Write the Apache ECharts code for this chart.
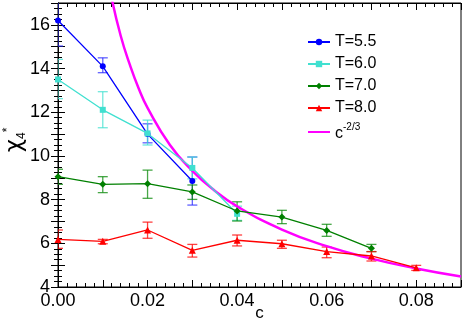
<!DOCTYPE html>
<html>
<head>
<meta charset="utf-8">
<script src="https://cdn.jsdelivr.net/npm/echarts@6/dist/echarts.min.js"></script>
<style>
  html, body { margin: 0; padding: 0; background: #fff; }
  #chart { width: 463px; height: 320px; }
</style>
</head>
<body>
<div id="chart"></div>
<script>
// concentration c for each temperature
const cT55 = [0.00, 0.01, 0.02, 0.03];
const cT60 = [0.00, 0.01, 0.02, 0.03, 0.04];
const cT70 = [0.00, 0.01, 0.02, 0.03, 0.04, 0.05, 0.06, 0.07];
const cT80 = [0.00, 0.01, 0.02, 0.03, 0.04, 0.05, 0.06, 0.07, 0.08];

// chi_4^* values and error bar ends
const yT55 = [16.2, 14.1, 11.0, 8.85];
const loT55 = [15.03, 13.81, 10.6, 7.75];
const hiT55 = [17.4, 14.49, 11.47, 9.95];

const yT60 = [13.5, 12.11, 11.03, 9.45, 7.35];
const loT60 = [12.62, 11.29, 10.5, 8.95, 7.05];
const hiT60 = [14.42, 12.94, 11.64, 9.95, 7.7];

const yT70 = [9.05, 8.70, 8.73, 8.35, 7.48, 7.2, 6.59, 5.77];
const loT70 = [8.70, 8.32, 8.06, 8.01, 7.02, 6.9, 6.32, 5.62];
const hiT70 = [9.39, 9.05, 9.35, 8.67, 7.9, 7.51, 6.87, 5.95];

const yT80 = [6.18, 6.09, 6.61, 5.68, 6.14, 5.98, 5.62, 5.42, 4.88];
const loT80 = [5.77, 5.98, 6.23, 5.37, 5.88, 5.77, 5.34, 5.19, 4.76];
const hiT80 = [6.61, 6.18, 6.97, 5.95, 6.38, 6.14, 5.83, 5.62, 4.99];

// c^(-2/3) guide curve
const cPow = [0.0120, 0.014, 0.016, 0.018, 0.020, 0.025, 0.030, 0.035, 0.040, 0.050, 0.060, 0.070, 0.080, 0.090];
const yPow = [17.2, 15.5, 14.2, 13.1, 12.2, 10.5, 9.32, 8.41, 7.69, 6.63, 5.87, 5.30, 4.85, 4.48];

const legendNames = ['T=5.5', 'T=6.0', 'T=7.0', 'T=8.0', 'c-2/3'];

const pairs = (xs, ys) => xs.map((x, i) => [x, ys[i]]);

const errorBars = (name, color, xs, lo, hi) => ({
  type: 'custom',
  name: name + ' err',
  clip: true,
  z: 1,
  data: xs.map((x, i) => [x, lo[i], hi[i]]),
  encode: { x: 0, y: [1, 2] },
  renderItem: function (params, api) {
    const x = api.value(0);
    const a = api.coord([x, api.value(1)]);
    const b = api.coord([x, api.value(2)]);
    const w = 5;
    const st = { stroke: color, lineWidth: 1.3, opacity: 0.75 };
    return {
      type: 'group',
      children: [
        { type: 'line', shape: { x1: a[0], y1: a[1], x2: b[0], y2: b[1] }, style: st },
        { type: 'line', shape: { x1: a[0] - w, y1: a[1], x2: a[0] + w, y2: a[1] }, style: st },
        { type: 'line', shape: { x1: b[0] - w, y1: b[1], x2: b[0] + w, y2: b[1] }, style: st }
      ]
    };
  }
});

const lineSeries = (name, color, symbol, size, xs, ys) => ({
  type: 'line',
  name: name,
  data: pairs(xs, ys),
  symbol: symbol,
  symbolSize: size,
  z: 3,
  lineStyle: { color: color, width: 1.3 },
  itemStyle: { color: color },
  emphasis: { disabled: true }
});

const chart = echarts.init(document.getElementById('chart'));

const tickFont = { fontFamily: 'Liberation Sans', fontSize: 18, color: '#000' };

chart.setOption({
  animation: false,
  grid: {
    left: 58, right: 2, top: 3, bottom: 33,
    containLabel: false,
    outerBoundsMode: 'none',
    show: true,
    borderColor: '#000',
    borderWidth: 1
  },
  legend: {
    data: legendNames.map(n => n === 'c-2/3'
      ? { name: n, itemStyle: { opacity: 0 } }
      : { name: n }),
    orient: 'vertical',
    left: 302,
    top: 29,
    itemWidth: 22,
    itemHeight: 8,
    itemGap: 6,
    textStyle: {
      fontFamily: 'Liberation Sans',
      fontSize: 16,
      color: '#000',
      rich: {
        b: { fontFamily: 'Liberation Sans', fontSize: 16, color: '#000', verticalAlign: 'bottom', lineHeight: 20 },
        s: { fontFamily: 'Liberation Sans', fontSize: 10, color: '#000', verticalAlign: 'top', lineHeight: 20 }
      }
    },
    formatter: function (name) {
      return name === 'c-2/3' ? '{b|c}{s|-2/3}' : name;
    }
  },
  xAxis: [
    {
      type: 'value',
      min: 0, max: 0.09, interval: 0.01,
      name: 'c',
      nameLocation: 'middle',
      nameGap: 18,
      nameMoveOverlap: false,
      nameTextStyle: { fontFamily: 'Liberation Sans', fontSize: 17, color: '#000' },
      axisLine: { lineStyle: { color: '#000' } },
      axisTick: { inside: true, length: 7, lineStyle: { color: '#000' } },
      minorTick: { show: true, splitNumber: 5, length: 4, lineStyle: { color: '#000' } },
      splitLine: { show: false },
      axisLabel: Object.assign({
        margin: 5,
        formatter: v => (Math.round(v * 100) % 2 === 0 ? v.toFixed(2) : '')
      }, tickFont)
    },
    {
      type: 'value',
      position: 'top',
      min: 0, max: 0.09, interval: 0.01,
      axisLine: { lineStyle: { color: '#000' } },
      axisTick: { inside: true, length: 7, lineStyle: { color: '#000' } },
      minorTick: { show: true, splitNumber: 5, length: 4, lineStyle: { color: '#000' } },
      splitLine: { show: false },
      axisLabel: { show: false }
    }
  ],
  yAxis: [
    {
      type: 'value',
      min: 4, max: 17, interval: 1,
      name: '{chi|χ}{sub|4}{sup|*}',
      nameLocation: 'middle',
      nameRotate: 90,
      nameGap: 30,
      nameMoveOverlap: false,
      nameTextStyle: {
        padding: [0, 0, 0, 10],
        rich: {
          chi: { fontFamily: 'DejaVu Sans', fontSize: 23, color: '#000', lineHeight: 26, verticalAlign: 'middle' },
          sub: { fontFamily: 'Liberation Sans', fontSize: 12, color: '#000', lineHeight: 26, verticalAlign: 'bottom' },
          sup: { fontFamily: 'Liberation Sans', fontSize: 12, color: '#000', lineHeight: 26, verticalAlign: 'top' }
        }
      },
      axisLine: { lineStyle: { color: '#000' } },
      axisTick: { inside: true, length: 7, lineStyle: { color: '#000' } },
      minorTick: { show: true, splitNumber: 4, length: 4, lineStyle: { color: '#000' } },
      splitLine: { show: false },
      axisLabel: Object.assign({
        margin: 8,
        formatter: v => (v % 2 === 0 ? String(v) : '')
      }, tickFont)
    },
    {
      type: 'value',
      position: 'right',
      min: 4, max: 17, interval: 1,
      axisLine: { lineStyle: { color: '#000' } },
      axisTick: { inside: true, length: 7, lineStyle: { color: '#000' } },
      minorTick: { show: true, splitNumber: 4, length: 4, lineStyle: { color: '#000' } },
      splitLine: { show: false },
      axisLabel: { show: false }
    }
  ],
  series: [
    errorBars('T=5.5', '#2b2bff', cT55, loT55, hiT55),
    errorBars('T=6.0', '#40e0d0', cT60, loT60, hiT60),
    errorBars('T=7.0', '#0a8a0a', cT70, loT70, hiT70),
    errorBars('T=8.0', '#ff0000', cT80, loT80, hiT80),
    lineSeries('T=5.5', '#0000ff', 'circle', 6, cT55, yT55),
    lineSeries('T=6.0', '#40e0d0', 'rect', 6, cT60, yT60),
    lineSeries('T=7.0', '#008000', 'diamond', 7, cT70, yT70),
    lineSeries('T=8.0', '#ff0000', 'triangle', 7, cT80, yT80),
    {
      type: 'line',
      name: 'c-2/3',
      data: pairs(cPow, yPow),
      smooth: true,
      symbol: 'none',
      z: 2,
      lineStyle: { color: '#ff00ff', width: 2.5 },
      itemStyle: { color: '#ff00ff' },
      emphasis: { disabled: true }
    }
  ]
});
</script>
</body>
</html>
